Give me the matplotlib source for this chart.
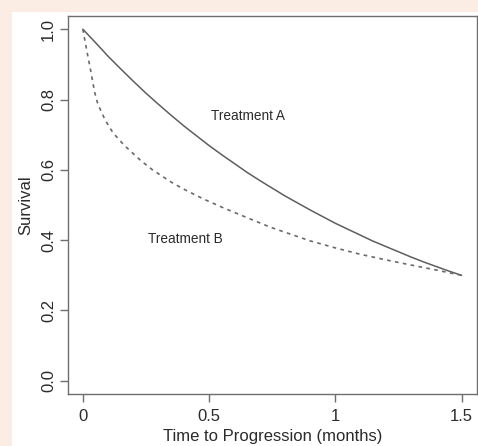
import matplotlib
matplotlib.use("Agg")
import matplotlib.pyplot as plt
from matplotlib.patches import Rectangle

# survival curves
time_a = [0.0, 0.05, 0.1, 0.15, 0.2, 0.25, 0.3, 0.35, 0.4, 0.45, 0.5, 0.55, 0.6,
          0.65, 0.7, 0.75, 0.8, 0.85, 0.9, 0.95, 1.0, 1.05, 1.1, 1.15, 1.2, 1.25,
          1.3, 1.35, 1.4, 1.45, 1.5]
surv_a = [1.000, 0.962, 0.923, 0.887, 0.852, 0.818, 0.786, 0.755, 0.725, 0.697,
          0.669, 0.643, 0.618, 0.593, 0.570, 0.548, 0.526, 0.506, 0.486, 0.467,
          0.448, 0.431, 0.414, 0.397, 0.382, 0.367, 0.352, 0.338, 0.325, 0.312,
          0.300]

time_b = [0.0, 0.006, 0.017, 0.030, 0.047, 0.057, 0.069, 0.085, 0.102, 0.12,
          0.142, 0.165, 0.195, 0.23, 0.274, 0.35, 0.4, 0.478, 0.55, 0.61, 0.742,
          0.9, 1.0, 1.098, 1.2, 1.295, 1.4, 1.5]
surv_b = [1.000, 0.976, 0.934, 0.886, 0.820, 0.793, 0.772, 0.747, 0.725, 0.705,
          0.687, 0.669, 0.649, 0.626, 0.601, 0.565, 0.545, 0.517, 0.494, 0.476,
          0.437, 0.398, 0.378, 0.360, 0.344, 0.330, 0.315, 0.300]

x_ticks = [0, 0.5, 1, 1.5]
x_tick_labels = ["0", "0.5", "1", "1.5"]
y_ticks = [0.0, 0.2, 0.4, 0.6, 0.8, 1.0]
y_tick_labels = ["0.0", "0.2", "0.4", "0.6", "0.8", "1.0"]

plt.rcParams["font.family"] = ["Liberation Sans", "DejaVu Sans"]
txt = "#2b2b2b"
grey = "#5e5e5e"

fig = plt.figure(figsize=(4.78, 4.46), dpi=100)
fig.patch.set_facecolor("#fbede3")
fig.patches.append(Rectangle((12 / 478, 0), 1 - 12 / 478, 1 - 12 / 446,
                             transform=fig.transFigure, facecolor="white",
                             edgecolor="none", zorder=-5))

ax = fig.add_axes([67.7 / 478, 1 - 394.3 / 446, 409 / 478, 378.6 / 446])
ax.set_zorder(2)
ax.plot(time_a, surv_a, color=grey, lw=1.1, solid_capstyle="round")
ax.plot(time_b, surv_b, color="#6a6a6a", lw=1.2, linestyle=(0, (2.2, 2.6)))

ax.text(0.655, 0.753, "Treatment A", fontsize=9.8, color=txt, ha="center", va="center")
ax.text(0.405, 0.402, "Treatment B", fontsize=9.8, color=txt, ha="center", va="center")

ax.set_xlim(-0.06, 1.56)
ax.set_ylim(-0.0384, 1.0384)
ax.set_xticks(x_ticks)
ax.set_xticklabels(x_tick_labels)
ax.set_yticks(y_ticks)
ax.set_yticklabels(y_tick_labels, rotation=90, va="center")

for s in ax.spines.values():
    s.set_color("#6e6e6e")
    s.set_linewidth(1.0)
ax.tick_params(axis="both", direction="out", length=5.8, width=1.0,
               color="#6e6e6e", labelsize=12, labelcolor=txt)
ax.tick_params(axis="x", pad=5)
ax.tick_params(axis="y", pad=2.5)

ax.set_xlabel("Time to Progression (months)", fontsize=12, color=txt)
ax.xaxis.set_label_coords(0.5, -0.092)
ax.set_ylabel("Survival", fontsize=12, color=txt)
ax.yaxis.set_label_coords(-0.085, 0.5)

fig.savefig("out.png", dpi=100, facecolor=fig.get_facecolor())
